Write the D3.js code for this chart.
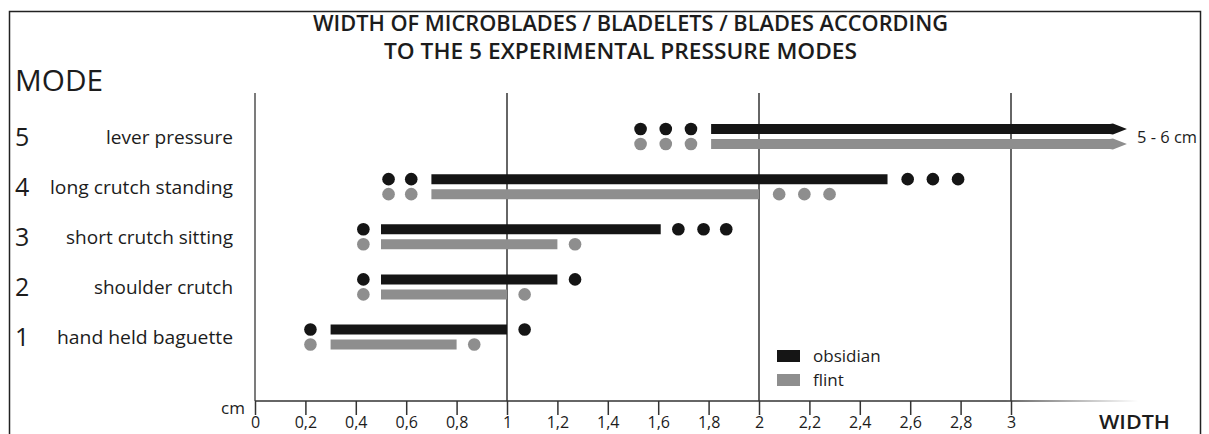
<!DOCTYPE html>
<html>
<head>
<meta charset="utf-8">
<script src="https://cdn.jsdelivr.net/npm/d3@7"></script>
<style>
  body { margin: 0; background: #fff; }
  svg { display: block; }
  text { font-family: "Open Sans", "Lato", "Liberation Sans", sans-serif; fill: #1c1c1c; }
</style>
</head>
<body>
<svg id="chart" width="1209" height="434"></svg>
<script>
// modes, top to bottom
var modes = [5, 4, 3, 2, 1];
var modeNames = ["lever pressure", "long crutch standing", "short crutch sitting", "shoulder crutch", "hand held baguette"];
// label widths measured on the reference (condensed face)
var modeNameWidths = [127, 183, 167, 139, 176];

// bar ranges in cm (mode 5 runs off the axis, drawn as an arrow)
var obsidianStart = [1.81, 0.70, 0.50, 0.50, 0.30];
var obsidianEnd   = [3.46, 2.51, 1.61, 1.20, 1.00];
var flintStart    = [1.81, 0.70, 0.50, 0.50, 0.30];
var flintEnd      = [3.46, 2.00, 1.20, 1.00, 0.80];

// dots = occasional values outside the main range
var obsidianDots = [[1.53, 1.63, 1.73], [0.53, 0.62, 2.59, 2.69, 2.79], [0.43, 1.68, 1.78, 1.87], [0.43, 1.27], [0.22, 1.07]];
var flintDots    = [[1.53, 1.63, 1.73], [0.53, 0.62, 2.08, 2.18, 2.28], [0.43, 1.27], [0.43, 1.07], [0.22, 0.87]];

var arrowModes = [5];
var arrowLabel = "5 - 6 cm";

var tickValues = d3.range(0, 3.01, 0.2).map(function(d) { return Math.round(d * 10) / 10; });
var gridValues = [1, 2, 3];

var seriesNames = ["obsidian", "flint"];
var seriesColors = ["#151515", "#8e8e8e"];

var titleLines = ["WIDTH OF MICROBLADES / BLADELETS / BLADES ACCORDING", "TO THE 5 EXPERIMENTAL PRESSURE MODES"];

var svg = d3.select("#chart");

var x = d3.scaleLinear().domain([0, 3]).range([255, 1011]);
var y = d3.scaleLinear().domain([5, 1]).range([136.5, 337]);
var axisY = 401, topY = 93;
var barH = 10, offset = 7.5, r = 6.3;

// squeeze text to the width measured on the reference
function fit(sel, w) {
  sel.attr("textLength", w).attr("lengthAdjust", "spacingAndGlyphs");
}

// frame
svg.append("rect")
    .attr("x", 9.5).attr("y", 11.5)
    .attr("width", 1191).attr("height", 440)
    .attr("fill", "none").attr("stroke", "#222").attr("stroke-width", 1.5);

// title
svg.append("text").attr("x", 313).attr("y", 31).style("font-size", "21px").style("font-weight", 600)
    .text(titleLines[0]).call(fit, 635);
svg.append("text").attr("x", 384).attr("y", 59).style("font-size", "21px").style("font-weight", 600)
    .text(titleLines[1]).call(fit, 473);

svg.append("text").attr("x", 15).attr("y", 91).style("font-size", "29px")
    .text("MODE").call(fit, 88);

// gridlines and y axis line
svg.append("line")
    .attr("x1", x(0)).attr("x2", x(0)).attr("y1", topY).attr("y2", axisY)
    .attr("stroke", "#7c7c7c").attr("stroke-width", 2);

svg.selectAll(".grid")
    .data(gridValues)
    .enter().append("line")
    .attr("class", "grid")
    .attr("x1", function(d) { return x(d); }).attr("x2", function(d) { return x(d); })
    .attr("y1", topY).attr("y2", axisY)
    .attr("stroke", "#333").attr("stroke-width", 1.5);

// x axis, line fades out to the right
var grad = svg.append("defs").append("linearGradient")
    .attr("id", "fade").attr("gradientUnits", "userSpaceOnUse")
    .attr("x1", x(0)).attr("x2", 1138).attr("y1", 0).attr("y2", 0);
grad.append("stop").attr("offset", 0.85).attr("stop-color", "#333").attr("stop-opacity", 1);
grad.append("stop").attr("offset", 1).attr("stop-color", "#333").attr("stop-opacity", 0);

svg.append("line")
    .attr("x1", x(0)).attr("x2", 1138).attr("y1", axisY).attr("y2", axisY)
    .attr("stroke", "url(#fade)").attr("stroke-width", 1.6);

var xAxis = d3.axisBottom(x)
    .tickValues(tickValues)
    .tickSize(14)
    .tickPadding(2)
    .tickFormat(function(d) { return String(d).replace(".", ","); });

var gx = svg.append("g")
    .attr("transform", "translate(0," + axisY + ")")
    .call(xAxis);
gx.select(".domain").remove();
gx.selectAll(".tick line").attr("stroke", "#333").attr("stroke-width", 1.5);
gx.selectAll(".tick text")
    .style("font-family", "\"Open Sans\", \"Liberation Sans\", sans-serif")
    .style("font-size", "16px").attr("fill", "#1c1c1c");

svg.append("text").attr("x", 245).attr("y", 414).attr("text-anchor", "end").style("font-size", "17px").text("cm");
svg.append("text").attr("x", 1099).attr("y", 429).style("font-size", "20px").style("font-weight", 600)
    .text("WIDTH").call(fit, 71);

// row labels
var rows = svg.selectAll(".row")
    .data(modes)
    .enter().append("g")
    .attr("class", "row");

rows.append("text")
    .attr("x", 15)
    .attr("y", function(d) { return y(d) + 9; })
    .style("font-size", "25px").style("font-weight", 500)
    .text(function(d) { return d; });

rows.append("text")
    .attr("x", 233)
    .attr("y", function(d) { return y(d) + 7; })
    .attr("text-anchor", "end")
    .style("font-size", "18px").style("font-weight", 500)
    .text(function(d, i) { return modeNames[i]; })
    .each(function(d, i) { d3.select(this).call(fit, modeNameWidths[i]); });

// bars and dots
var series = [
  { name: seriesNames[0], color: seriesColors[0], start: obsidianStart, end: obsidianEnd, dots: obsidianDots, dy: -offset },
  { name: seriesNames[1], color: seriesColors[1], start: flintStart, end: flintEnd, dots: flintDots, dy: offset }
];

series.forEach(function(s) {
  var g = svg.append("g").attr("class", "series-" + s.name);

  g.selectAll("path")
      .data(modes)
      .enter().append("path")
      .attr("fill", s.color)
      .attr("d", function(m, i) {
        var x0 = x(s.start[i]), x1 = x(s.end[i]);
        var cy = y(m) + s.dy, h = barH / 2;
        if (arrowModes.indexOf(m) < 0) {
          return "M" + x0 + "," + (cy - h) + "H" + x1 + "V" + (cy + h) + "H" + x0 + "Z";
        }
        // arrow tip
        var xb = x1 - 17;
        return "M" + x0 + "," + (cy - h) + "H" + xb + "L" + (xb + 3) + "," + (cy - h - 0.5) +
               "L" + x1 + "," + cy + "L" + (xb + 3) + "," + (cy + h + 0.5) + "L" + xb + "," + (cy + h) + "H" + x0 + "Z";
      });

  var pts = [];
  modes.forEach(function(m, i) {
    s.dots[i].forEach(function(v) { pts.push({ mode: m, v: v }); });
  });

  g.selectAll("circle")
      .data(pts)
      .enter().append("circle")
      .attr("cx", function(d) { return x(d.v); })
      .attr("cy", function(d) { return y(d.mode) + s.dy; })
      .attr("r", r)
      .attr("fill", s.color);
});

svg.append("text")
    .attr("x", 1137).attr("y", y(5) + 6)
    .style("font-size", "16px")
    .text(arrowLabel).call(fit, 60);

// legend
var legend = svg.selectAll(".legend")
    .data(series)
    .enter().append("g")
    .attr("class", "legend")
    .attr("transform", function(d, i) { return "translate(777," + (350 + i * 24) + ")"; });

legend.append("rect")
    .attr("width", 23).attr("height", 12)
    .attr("fill", function(d) { return d.color; });

legend.append("text")
    .attr("x", 36).attr("y", 12)
    .style("font-size", "17px").style("font-weight", 500)
    .text(function(d) { return d.name; });
</script>
</body>
</html>
